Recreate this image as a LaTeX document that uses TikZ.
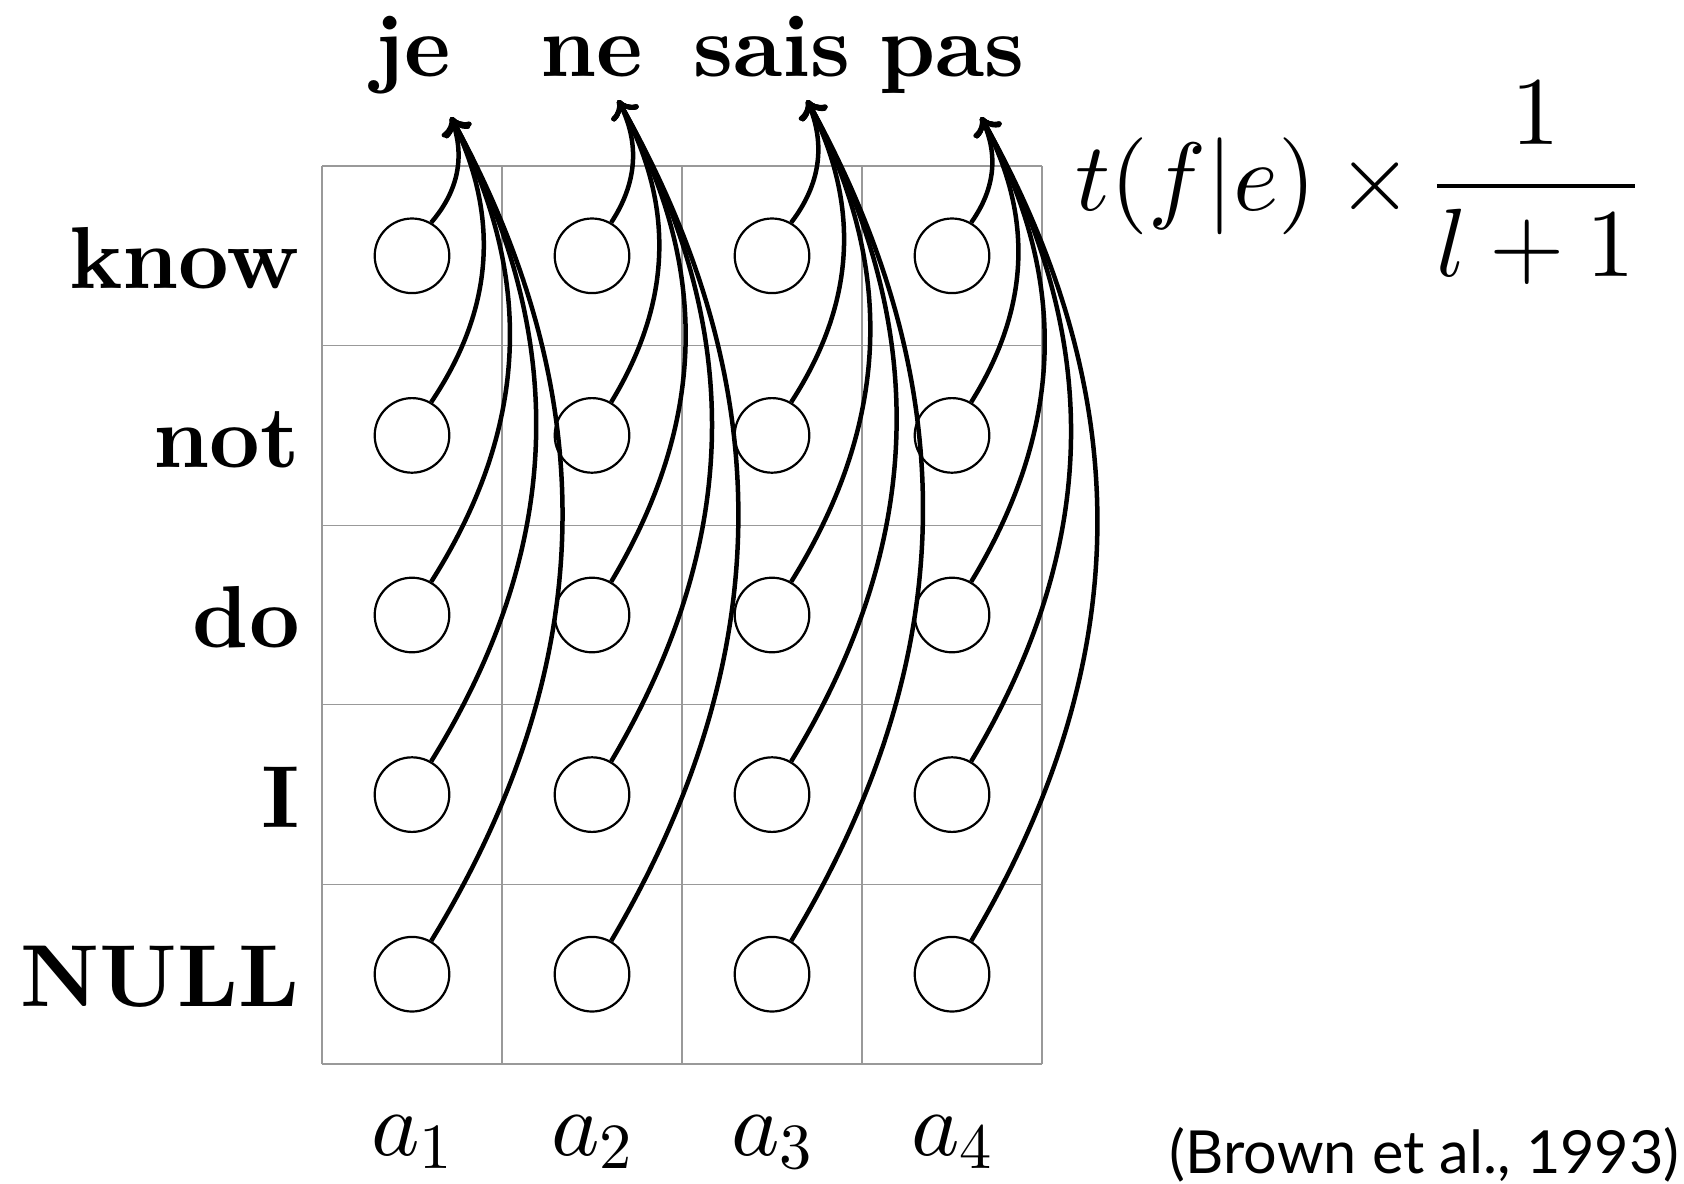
\RequirePackage{fix-cm}
\documentclass[tikz,border=0pt]{standalone}
\usepackage[no-math]{fontspec}
\DeclareFontShape{OT1}{cmr}{m}{n}{<->cmr10}{}
\DeclareFontShape{OML}{cmm}{m}{it}{<->cmmi10}{}
\DeclareFontShape{OMS}{cmsy}{m}{n}{<->cmsy10}{}
\DeclareFontShape{OMX}{cmex}{m}{n}{<->cmex10}{}
\newfontfamily\citefont{Lato}
\newfontfamily\bxten{lmroman10-bold.otf}
\usetikzlibrary{arrows.meta}
\begin{document}
\begin{tikzpicture}[x=0.5pt,y=-0.5pt,
  gridline/.style={draw=black!40, line width=0.55pt},
  cell/.style={circle, draw, line width=1.1pt, minimum size=37.3pt, inner sep=0pt},
  word/.style={font=\bxten\fontsize{44}{50}\selectfont, inner sep=0pt},
  lbl/.style={font=\fontsize{46}{52}\selectfont, inner sep=0pt},
  formulastyle/.style={font=\fontsize{48.5}{54}\selectfont, inner sep=0pt},
  alignarrow/.style={line width=2.25pt, -{Computer Modern Rightarrow[length=8.5pt,width=15pt]}}
]
\useasboundingbox (0,0) rectangle (1684,1183);
% grid
\foreach \i in {0,...,4} \draw[gridline] ({322+180*\i},166) -- ({322+180*\i},1064);
\foreach \j in {0,...,5} \draw[gridline] (322,{166+179.6*\j}) -- (1042,{166+179.6*\j});
% circles
\foreach \c in {1,...,4} \foreach \r in {1,...,5}
  \node[cell] (c\r\c) at ({322+180*\c-90},{166+179.6*\r-89.8}) {};
% French words
\node[word, anchor=base] (je) at (412,76) {je};
\node[word, anchor=base] (ne) at (592,76) {ne};
\node[word, anchor=base] (sais) at (772,76) {sais};
\node[word, anchor=base] (pas) at (952,76) {pas};
\coordinate (tje) at (451,117);
\coordinate (tne) at (618,100);
\coordinate (tsais) at (807,100);
\coordinate (tpas) at (981,117);
% English words
\node[word, anchor=base east] (know) at (300,288) {know};
\node[word, anchor=base east] (not) at (300,467.6) {not};
\node[word, anchor=base east] (do) at (300,647.4) {do};
\node[word, anchor=base east] (I) at (300,827) {I};
\node[word, anchor=base east] (NULL) at (300,1006.6) {NULL};
% alignment variables
\node[lbl, anchor=base] (a1) at (412,1155) {$a_1$};
\node[lbl, anchor=base] (a2) at (592,1155) {$a_2$};
\node[lbl, anchor=base] (a3) at (772,1155) {$a_3$};
\node[lbl, anchor=base] (a4) at (952,1155) {$a_4$};
% formula
\node[formulastyle, anchor=base west] (formula) at (1075,210) {$\displaystyle t(f|e)\times\frac{1}{l+1}$};
% citation
\node[font=\citefont\fontsize{29.7}{34}\selectfont, anchor=base east, inner sep=0pt] (cite) at (1680,1173) {(Brown et al., 1993)};
% alignment links
\foreach \c/\t in {1/tje,2/tne,3/tsais,4/tpas} \foreach \r in {1,...,5}
  \draw[alignarrow] (c\r\c.60) to[bend right=30] (\t);
\end{tikzpicture}
\end{document}
